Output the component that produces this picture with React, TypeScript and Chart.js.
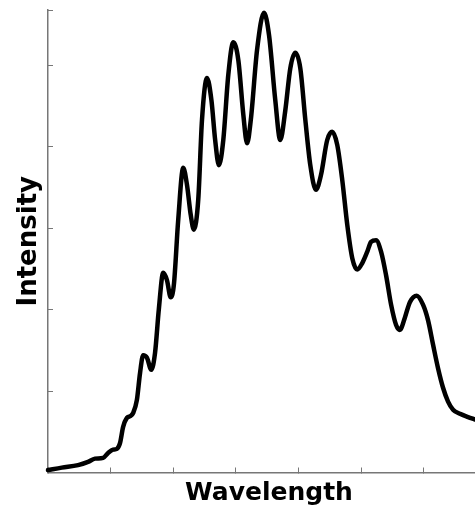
import React, { useEffect, useRef } from "react";
import { Chart, registerables } from "chart.js";

Chart.register(...registerables);

const wavelength: number[] = [
  0, 0.22, 0.48, 0.64, 0.75, 0.88, 0.96, 1.04, 1.1, 1.15, 1.2, 1.26, 1.31, 1.36, 1.42, 1.47, 1.52, 1.58,
  1.65, 1.71, 1.77, 1.84, 1.9, 1.96, 2.01, 2.08, 2.16, 2.22, 2.28, 2.33, 2.4, 2.46, 2.54, 2.61, 2.67,
  2.73, 2.8, 2.88, 2.96, 3.04, 3.12, 3.18, 3.24, 3.34, 3.45, 3.53, 3.63, 3.71, 3.79, 3.87, 3.95, 4.03,
  4.11, 4.19, 4.28, 4.36, 4.46, 4.54, 4.62, 4.7, 4.78, 4.86, 4.94, 5.02, 5.1, 5.16, 5.24, 5.32, 5.4,
  5.48, 5.56, 5.62, 5.7, 5.78, 5.89, 5.99, 6.07, 6.15, 6.23, 6.31, 6.39, 6.47, 6.58, 6.71, 6.82,
];

const intensity: number[] = [
  0.03, 0.06, 0.09, 0.13, 0.17, 0.18, 0.24, 0.28, 0.29, 0.36, 0.56, 0.67, 0.69, 0.73, 0.89, 1.22, 1.44, 1.41,
  1.26, 1.47, 2.0, 2.45, 2.36, 2.15, 2.3, 3.1, 3.74, 3.53, 3.16, 2.98, 3.35, 4.33, 4.84, 4.57, 4.08,
  3.77, 4.08, 4.88, 5.28, 5.06, 4.39, 4.04, 4.33, 5.19, 5.64, 5.37, 4.57, 4.08, 4.44, 4.96, 5.15, 4.96,
  4.33, 3.77, 3.47, 3.65, 4.08, 4.18, 4.02, 3.59, 3.04, 2.63, 2.49, 2.57, 2.71, 2.83, 2.85, 2.71, 2.42,
  2.06, 1.81, 1.75, 1.9, 2.09, 2.17, 2.06, 1.87, 1.57, 1.28, 1.04, 0.87, 0.77, 0.72, 0.68, 0.65,
];

const xTitle = "Wavelength";
const yTitle = "Intensity";

export default function App() {
  const ref = useRef<HTMLCanvasElement | null>(null);

  useEffect(() => {
    if (!ref.current) return;
    const axisColor = "#777777";
    const family = "'DejaVu Sans', Verdana, sans-serif";
    const chart = new Chart(ref.current, {
      type: "line",
      data: {
        datasets: [
          {
            data: wavelength.map((x, i) => ({ x, y: intensity[i] })),
            borderColor: "#000000",
            borderWidth: 4.5,
            pointRadius: 0,
            fill: false,
            cubicInterpolationMode: "monotone",
            borderJoinStyle: "round",
            borderCapStyle: "round",
            clip: false as any,
          },
        ],
      },
      options: {
        animation: false,
        responsive: false,
        events: [],
        layout: { padding: { top: 10, right: 5, bottom: 0, left: 0 } },
        plugins: { legend: { display: false }, tooltip: { enabled: false } },
        scales: {
          x: {
            type: "linear",
            min: 0,
            max: 7.06,
            ticks: { display: false, stepSize: 1 },
            grid: { drawOnChartArea: false, tickLength: -5, color: axisColor, lineWidth: 1 },
            border: { color: axisColor, width: 1.5 },
            title: {
              display: true,
              text: xTitle,
              color: "#000",
              font: { family, size: 25, weight: "bold" as const },
              padding: { top: 0, bottom: 2 },
            },
            afterFit: (scale: any) => {
              scale.height = 37.5;
            },
          },
          y: {
            type: "linear",
            min: 0,
            max: 5.675,
            ticks: { display: false, stepSize: 1 },
            grid: { drawOnChartArea: false, tickLength: -5, color: axisColor, lineWidth: 1 },
            border: { color: axisColor, width: 1.5 },
            title: {
              display: true,
              text: yTitle,
              color: "#000",
              font: { family, size: 26, weight: "bold" as const },
              padding: { top: 13.4, bottom: 0 },
            },
            afterFit: (scale: any) => {
              scale.width = 48;
            },
          },
        },
      },
    });
    return () => chart.destroy();
  }, []);

  return (
    <div style={{ position: "fixed", left: 0, top: 0, width: 475, height: 507, overflow: "hidden", background: "#fff" }}>
      <canvas ref={ref} width={495} height={510} style={{ display: "block", width: 495, height: 510 }} />
    </div>
  );
}
